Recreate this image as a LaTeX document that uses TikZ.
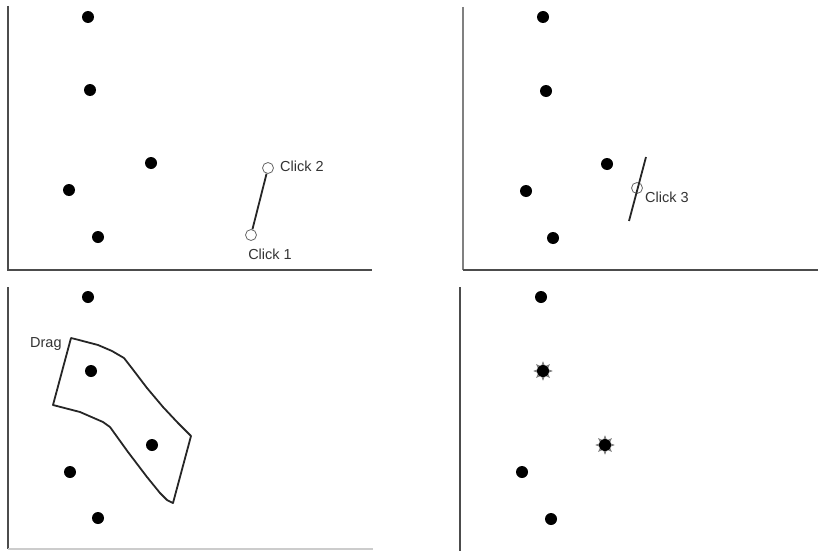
\documentclass[tikz,border=0pt]{standalone}
\usepackage{fontspec}
\setmainfont{Liberation Sans}
\usetikzlibrary{shapes.geometric}
\begin{document}
\begin{tikzpicture}[x=1pt,y=-1pt,
  dot/.style={circle,fill=black,inner sep=0pt,minimum size=12pt},
  hit/.style={star,star points=8,star point ratio=1.9,fill=black!45,draw=black!55,line width=0.5pt,inner sep=0pt,minimum size=18pt},
  ring/.style={circle,draw=black!60,fill=white,inner sep=0pt,minimum size=11pt,line width=0.8pt},
  axis/.style={draw=black!70,line width=1.8pt},
  lab/.style={font=\fontsize{14.5}{15}\selectfont,text=black!80,inner sep=0pt},
  stroke/.style={line width=1.8pt,black!85}]
\useasboundingbox (0,0) rectangle (818,551);
% ---------- panel 1 (top-left)
\coordinate (a1t) at (8,6); \coordinate (a1o) at (8,270); \coordinate (a1r) at (372,270);
\draw[axis] (a1t) -- (a1o) -- (a1r);
\node[dot] (p1a) at (88,17) {};
\node[dot] (p1b) at (90,90) {};
\node[dot] (p1c) at (151,163) {};
\node[dot] (p1d) at (69,190) {};
\node[dot] (p1e) at (98,237) {};
\node[ring] (c1) at (251,235) {};
\node[ring] (c2) at (268,168) {};
\draw[stroke] (c1) -- (c2);
\node[lab,anchor=west] (l2) at (280,166) {Click 2};
\node[lab,anchor=north] (l1) at (270,249) {Click 1};
% ---------- panel 2 (top-right)
\coordinate (a2t) at (463,7); \coordinate (a2o) at (463,270); \coordinate (a2r) at (818,270);
\draw[axis,draw=black!50] (a2t) -- (a2o);
\draw[axis] (a2o) -- (a2r);
\node[dot] (p2a) at (543,17) {};
\node[dot] (p2b) at (546,91) {};
\node[dot] (p2c) at (607,164) {};
\node[dot] (p2d) at (526,191) {};
\node[dot] (p2e) at (553,238) {};
\coordinate (s3a) at (646,157); \coordinate (s3b) at (629,221);
\node[ring,fill=none] (c3) at (637,188) {};
\draw[stroke] (s3a) -- (s3b);
\node[lab,anchor=west] (l3) at (645,197) {Click 3};
% ---------- panel 3 (bottom-left)
\coordinate (a3t) at (8,287); \coordinate (a3o) at (8,549); \coordinate (a3r) at (373,549);
\draw[axis] (a3t) -- (a3o);
\draw[draw=black!20,line width=1.5pt] (a3o) -- (a3r);
\node[dot] (p3a) at (88,297) {};
\node[dot] (p3b) at (91,371) {};
\node[dot] (p3c) at (152,445) {};
\node[dot] (p3d) at (70,472) {};
\node[dot] (p3e) at (98,518) {};
\draw[stroke,line join=round] (71,338) -- (79,340) -- (98,345) -- (112,351) -- (124,358) -- (131,367)
  -- (147,388) -- (163,407) -- (178,423) -- (191,436) -- (173,503) -- (167,500) -- (160,493)
  -- (147,477) -- (128,452) -- (110,427) -- (103,422) -- (80,412) -- (53,405) -- cycle;
\node[lab,anchor=west] (ld) at (30,344) {Drag};
% ---------- panel 4 (bottom-right)
\coordinate (a4t) at (460,287); \coordinate (a4b) at (460,551);
\draw[axis] (a4t) -- (a4b);
\node[dot] (p4a) at (541,297) {};
\node[hit] (p4b) at (543,371) {};
\node[dot] (p4bc) at (543,371) {};
\node[hit] (p4c) at (605,445) {};
\node[dot] (p4cc) at (605,445) {};
\node[dot] (p4d) at (522,472) {};
\node[dot] (p4e) at (551,519) {};
\end{tikzpicture}
\end{document}
